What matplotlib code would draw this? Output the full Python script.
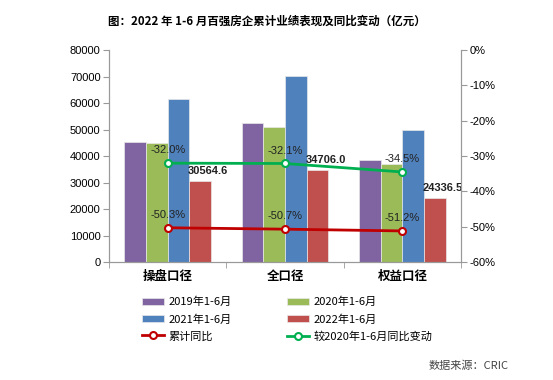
import numpy as np
import matplotlib.pyplot as plt
from matplotlib.ticker import FuncFormatter

plt.rcParams['font.family'] = ['Noto Sans CJK SC', 'DejaVu Sans']

# データ
categories = ['操盘口径', '全口径', '权益口径']
series_names = ['2019年1-6月', '2020年1-6月', '2021年1-6月', '2022年1-6月']
v2019 = [45300, 52450, 38600]
v2020 = [44950, 51100, 37150]
v2021 = [61500, 70400, 49870]
v2022 = [30564.6, 34706.0, 24336.5]
yoy = [-50.3, -50.7, -51.2]          # 累计同比
vs2020 = [-32.0, -32.1, -34.5]       # 较2020年1-6月同比变动

colors = ['#8064A2', '#9BBB59', '#4F81BD', '#C0504D']
num_font = ['Liberation Sans', 'DejaVu Sans']

fig = plt.figure(figsize=(5.53, 3.80), dpi=100)
ax = fig.add_axes([0.197, 0.3105, 0.637, 0.5575])
ax2 = ax.twinx()

x = np.arange(len(categories))
w = 0.184
for i, vals in enumerate([v2019, v2020, v2021, v2022]):
    ax.bar(x + (i - 1.5) * w, vals, w, color=colors[i], edgecolor='#e8e8e8',
           linewidth=0.5, label=series_names[i], zorder=2)

# 2022 の値ラベル
for xi, v in zip(x, v2022):
    ax.text(xi + 1.5 * w + 0.07, v + 1800, '%.1f' % v, ha='center', va='bottom',
            fontsize=8, fontweight='bold', color='#222222', family=num_font)

ax.set_xlim(-0.5, 2.5)
ax.set_ylim(0, 80000)
ax.set_yticks(np.arange(0, 80001, 10000))
ax.set_xticks(x)
ax.set_xticklabels(categories, fontsize=9, fontweight='bold')
ax.set_xticks([-0.5, 0.5, 1.5, 2.5], minor=True)
ax.tick_params(axis='x', which='major', length=0, pad=6)
ax.tick_params(axis='x', which='minor', length=4, color='#999999')
ax.tick_params(axis='y', labelsize=8, length=4, color='#999999', pad=2)
for t in ax.get_yticklabels():
    t.set_family(num_font)

ax2.plot(x, yoy, color='#C00000', lw=2, marker='o', ms=5, mfc='white',
         mec='#C00000', mew=1.5, label='累计同比', zorder=5)
ax2.plot(x, vs2020, color='#00B050', lw=2, marker='o', ms=5, mfc='white',
         mec='#00B050', mew=1.5, label='较2020年1-6月同比变动', zorder=5)
for xi, a, b in zip(x, yoy, vs2020):
    ax2.text(xi, a + 2.2, '%.1f%%' % a, ha='center', va='bottom', fontsize=8,
             color='#222222', family=num_font)
    ax2.text(xi, b + 2.2, '%.1f%%' % b, ha='center', va='bottom', fontsize=8,
             color='#222222', family=num_font)
ax2.set_ylim(-60, 0)
ax2.set_yticks(np.arange(-60, 1, 10))
ax2.yaxis.set_major_formatter(FuncFormatter(lambda v, p: '%d%%' % v))
ax2.tick_params(axis='y', labelsize=8, length=4, color='#999999', pad=2)
for t in ax2.get_yticklabels():
    t.set_family(num_font)

for a in (ax, ax2):
    a.spines['top'].set_visible(False)
    for s in ('left', 'right', 'bottom'):
        a.spines[s].set_color('#999999')

fig.text(0.483, 0.945, '图：2022 年 1-6 月百强房企累计业绩表现及同比变动（亿元）',
         ha='center', va='center', fontsize=8.3, fontweight='bold')

h1, l1 = ax.get_legend_handles_labels()
h2, l2 = ax2.get_legend_handles_labels()
handles = [h1[0], h1[2], h2[0], h1[1], h1[3], h2[1]]
labels = [l1[0], l1[2], l2[0], l1[1], l1[3], l2[1]]
fig.legend(handles, labels, ncol=2, loc='upper left', bbox_to_anchor=(0.238, 0.245),
           frameon=False, fontsize=8, handlelength=2.0, handleheight=0.7,
           columnspacing=5.0, labelspacing=0.6, handletextpad=0.4)

fig.text(0.92, 0.025, '数据来源：CRIC', ha='right', va='bottom', fontsize=8,
         color='#444444')

fig.savefig('out.png', dpi=100)
